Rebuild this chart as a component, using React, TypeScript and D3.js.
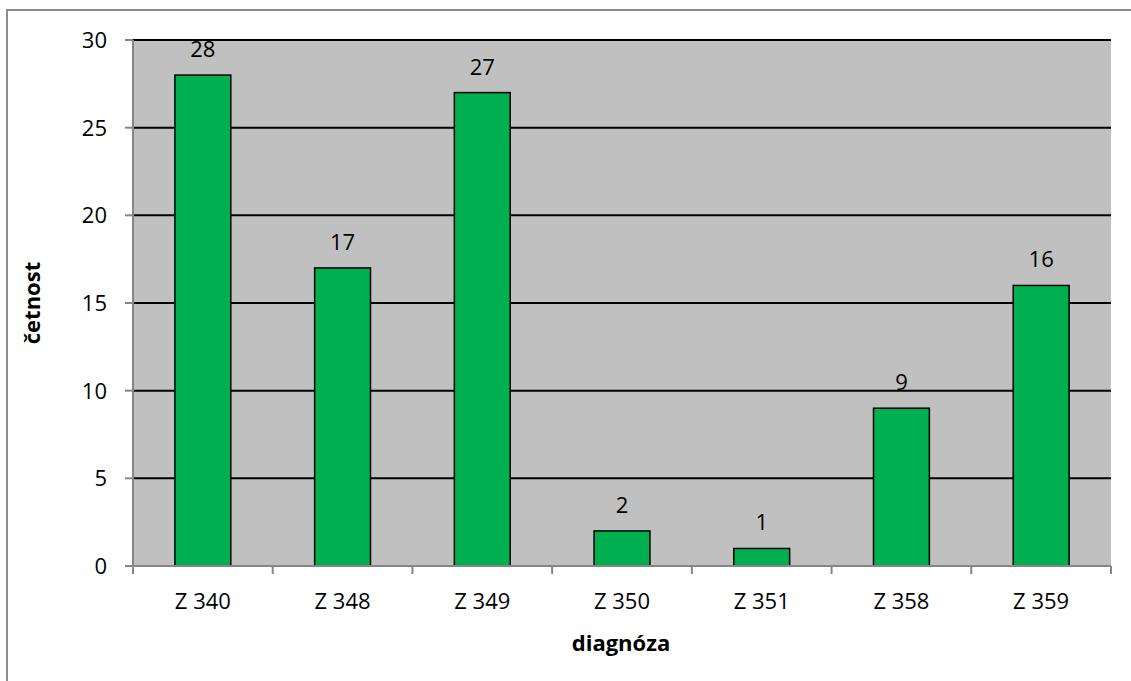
import React from "react";
import * as d3 from "d3";

const categories = ["Z 340", "Z 348", "Z 349", "Z 350", "Z 351", "Z 358", "Z 359"];
const values = [28, 17, 27, 2, 1, 9, 16];
const yTicks = [0, 5, 10, 15, 20, 25, 30];

const W = 1131, H = 681;
const M = { left: 133, right: 1111, top: 40, bottom: 566 };
const FONT = "'Open Sans', 'Liberation Sans', sans-serif";
const FS = 22;

export default function App() {
  const x = d3.scaleBand<string>().domain(categories).range([M.left, M.right]);
  const y = d3.scaleLinear().domain([0, 30]).range([M.bottom, M.top]);
  const step = x.step();
  const bw = step * 0.4;
  return (
    <svg width={W} height={H} style={{ position: "absolute", left: 0, top: 0 }}>
      <rect x={0} y={0} width={W} height={H} fill="#fff" />
      <rect x={7} y={10} width={W + 10} height={H + 10} fill="none" stroke="#8c8c8c" strokeWidth={2} />
      <rect x={M.left} y={M.top} width={M.right - M.left} height={M.bottom - M.top} fill="#c0c0c0" />
      {yTicks.filter(t => t > 0).map(t => (
        <line key={"g" + t} x1={M.left} x2={M.right} y1={y(t)} y2={y(t)} stroke="#000" strokeWidth={2} />
      ))}
      {values.map((v, i) => {
        const cx = x(categories[i])! + step / 2;
        return (
          <g key={i}>
            <rect x={cx - bw / 2} y={y(v)} width={bw} height={y(0) - y(v)} fill="#00b050" stroke="#000" strokeWidth={1.5} />
            <text x={cx} y={y(v) - 18} textAnchor="middle" fontFamily={FONT} fontSize={FS} fill="#000">{v}</text>
          </g>
        );
      })}
      <line x1={M.left} x2={M.left} y1={M.top} y2={M.bottom} stroke="#868686" strokeWidth={2} />
      <line x1={M.left} x2={M.right} y1={M.bottom} y2={M.bottom} stroke="#868686" strokeWidth={2} />
      {yTicks.map(t => (
        <g key={"y" + t}>
          <line x1={M.left - 8} x2={M.left} y1={y(t)} y2={y(t)} stroke="#868686" strokeWidth={2} />
          <text x={107} y={y(t) + 8} textAnchor="end" fontFamily={FONT} fontSize={FS} fill="#000">{t}</text>
        </g>
      ))}
      {d3.range(categories.length + 1).map(i => (
        <line key={"xt" + i} x1={M.left + i * step} x2={M.left + i * step} y1={M.bottom} y2={M.bottom + 8} stroke="#868686" strokeWidth={2} />
      ))}
      {categories.map(c => (
        <text key={c} x={x(c)! + step / 2} y={609} textAnchor="middle" fontFamily={FONT} fontSize={FS} fill="#000">{c}</text>
      ))}
      <text x={621} y={651} textAnchor="middle" fontFamily={FONT} fontSize={FS} fontWeight="bold" fill="#000">diagnóza</text>
      <text transform={`translate(40,${(M.top + M.bottom) / 2}) rotate(-90)`} textAnchor="middle" fontFamily={FONT} fontSize={FS} fontWeight="bold" fill="#000">četnost</text>
    </svg>
  );
}
